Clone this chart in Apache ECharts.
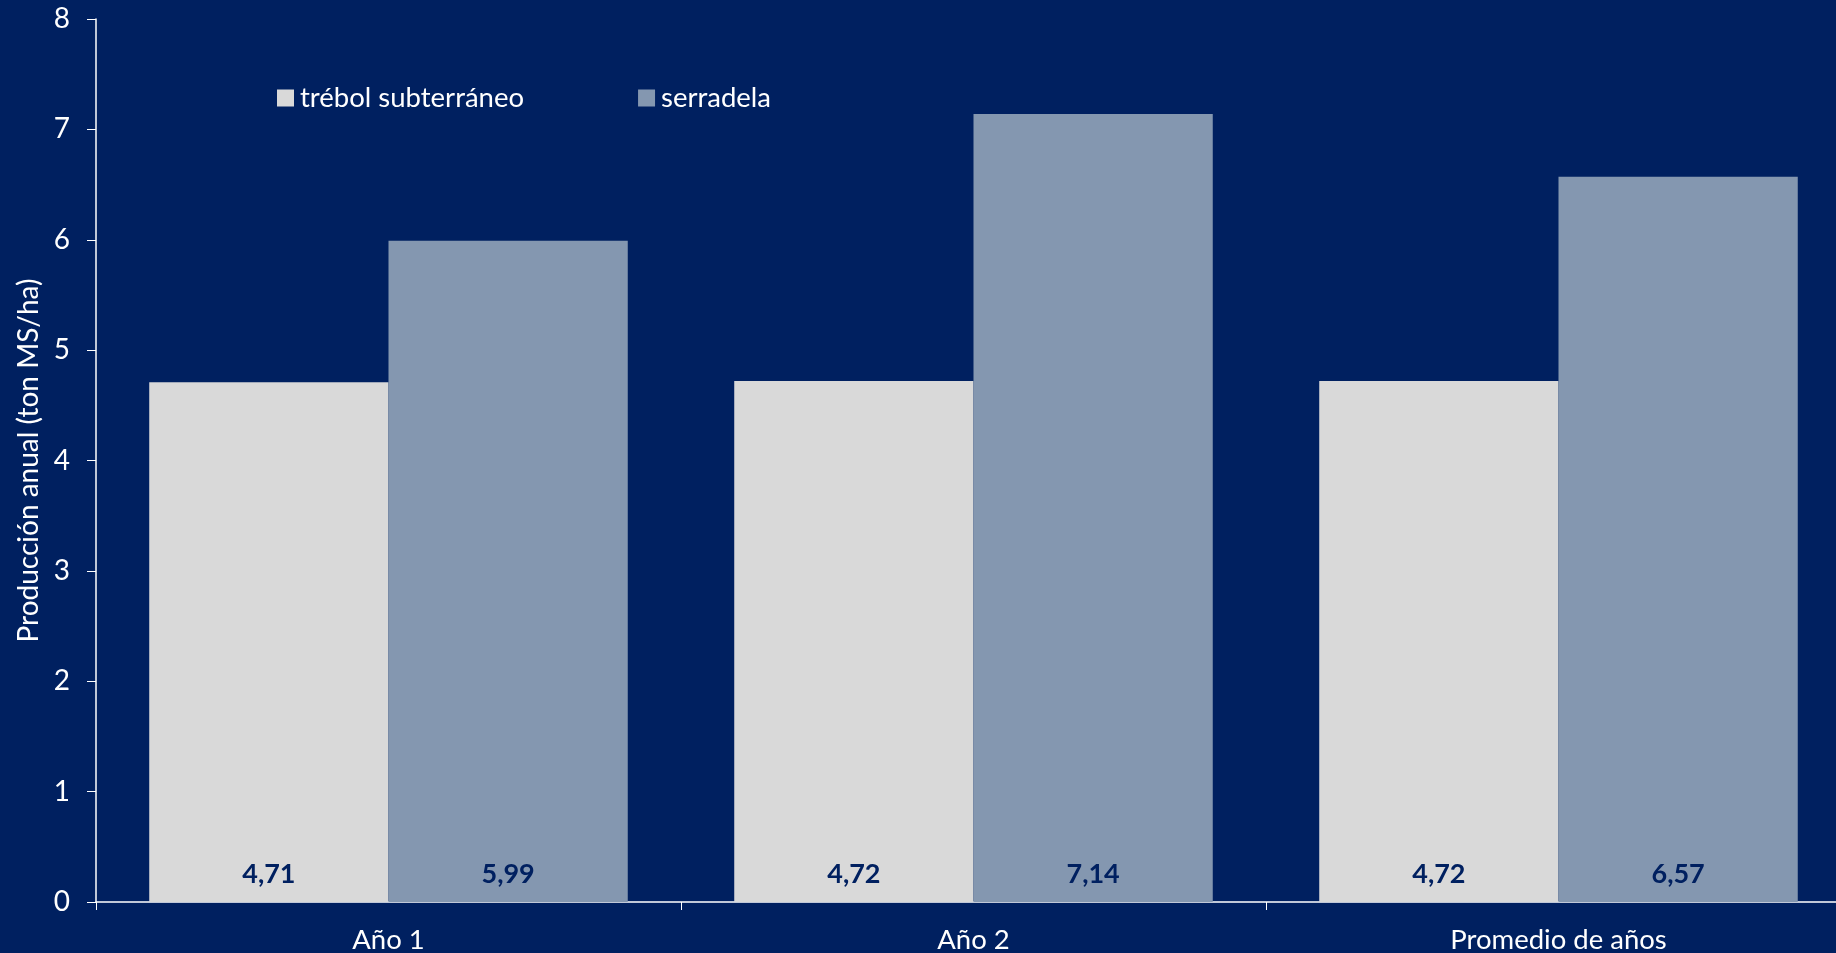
<!DOCTYPE html>
<html>
<head>
<meta charset="utf-8">
<script src="https://cdn.jsdelivr.net/npm/echarts@6/dist/echarts.min.js"></script>
<style>
html,body{margin:0;padding:0;background:#002060;}
#c{width:1836px;height:953px;}
</style>
</head>
<body>
<div id="c"></div>
<script>
const categories = ["Año 1", "Año 2", "Promedio de años"];
const seriesNames = ["trébol subterráneo", "serradela"];
const trebol = [4.71, 4.72, 4.72];
const serradela = [5.99, 7.14, 6.57];
const yTicks = [0, 1, 2, 3, 4, 5, 6, 7, 8];

const FONT = "Lato";
const chart = echarts.init(document.getElementById('c'));
const labelCfg = {
  show: true,
  position: 'insideBottom',
  distance: 14,
  color: '#002060',
  fontFamily: FONT,
  fontWeight: 'bold',
  fontSize: 27,
  formatter: p => p.value.toFixed(2).replace('.', ',')
};
chart.setOption({
  backgroundColor: '#002060',
  animation: false,
  textStyle: { fontFamily: FONT },
  legend: {
    left: 272, top: 79,
    itemWidth: 17, itemHeight: 17, itemGap: 114,
    icon: 'rect',
    textStyle: { color: '#ffffff', fontSize: 27.5, fontFamily: FONT, padding: [0,0,0,1] },
    data: seriesNames
  },
  grid: { left: 96, top: 19, width: 1755, bottom: 51, outerBoundsMode: 'none' },
  xAxis: {
    type: 'category',
    data: categories,
    axisLine: { lineStyle: { color: '#ffffff', width: 1.5 } },
    axisTick: { show: true, length: 8, lineStyle: { color: '#ffffff' } },
    axisLabel: { color: '#ffffff', fontSize: 27.5, fontFamily: FONT, margin: 24 }
  },
  yAxis: {
    type: 'value',
    min: yTicks[0], max: yTicks[yTicks.length - 1], interval: 1,
    name: 'Producción anual (ton MS/ha)',
    nameLocation: 'middle',
    nameGap: 51,
    nameRotate: 90,
    nameTextStyle: { color: '#ffffff', fontSize: 28, fontFamily: FONT },
    axisLine: { show: true, lineStyle: { color: '#ffffff', width: 1.5 } },
    axisTick: { show: true, length: 9, lineStyle: { color: '#ffffff' } },
    axisLabel: { color: '#ffffff', fontSize: 28, fontFamily: FONT, margin: 26 },
    splitLine: { show: false }
  },
  series: [
    { name: seriesNames[0], type: 'bar', data: trebol, barGap: '0%', barCategoryGap: '18.2%',
      itemStyle: { color: '#D9D9D9' }, label: labelCfg },
    { name: seriesNames[1], type: 'bar', data: serradela,
      itemStyle: { color: '#8497B0' }, label: labelCfg }
  ]
});
</script>
</body>
</html>
